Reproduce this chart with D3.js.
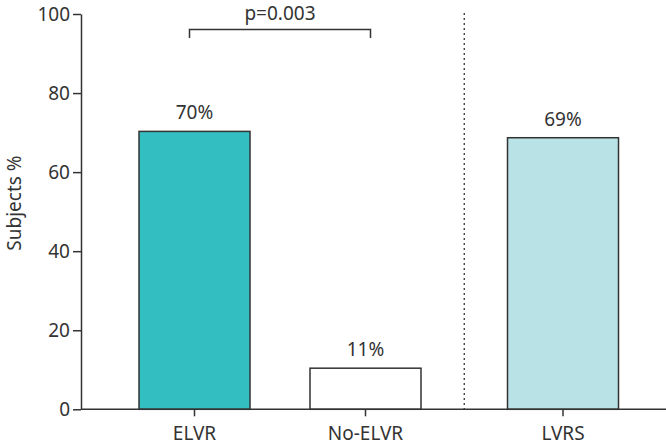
<!DOCTYPE html>
<html>
<head>
<meta charset="utf-8">
<script src="https://cdn.jsdelivr.net/npm/d3@7"></script>
<style>
  html, body { margin: 0; padding: 0; background: #fff; }
  svg { display: block; font-family: "Noto Sans", "Open Sans", sans-serif; }
</style>
</head>
<body>
<div id="chart"></div>
<script>
// ---- data ----
const categories = ["ELVR", "No-ELVR", "LVRS"];
const values = [70.3, 10.4, 68.7];
const valueLabels = ["70%", "11%", "69%"];
const barColors = ["#33bec1", "#ffffff", "#b9e2e6"];
const yTicks = [0, 20, 40, 60, 80, 100];
const yLabel = "Subjects %";
const pText = "p=0.003";

// ---- layout ----
const W = 666, H = 447;
const axisX = 81, y0 = 409.3, yTop = 14;
const barW = 111;
const ink = "#333333";
const fs = 19;

const svg = d3.select("#chart").append("svg").attr("width", W).attr("height", H);

const y = d3.scaleLinear().domain([0, 100]).range([y0, yTop]);
// slot positions: the third group sits after a separator gap
const slotOf = i => i + (i >= 2 ? 0.155 : 0);
const xs = d3.scaleLinear().domain([0, 1]).range([194.5, 365.5]);
const cx = i => xs(slotOf(i));

// y axis
const yAxis = d3.axisLeft(y).tickValues(yTicks).tickSize(8).tickPadding(3).tickSizeOuter(0);
const gy = svg.append("g").attr("transform", `translate(${axisX},0)`).call(yAxis);
gy.select(".domain").attr("stroke", ink).attr("stroke-width", 1.5);
gy.selectAll(".tick line").attr("stroke", ink).attr("stroke-width", 1.5);
gy.selectAll(".tick text").attr("fill", ink).attr("font-size", fs).attr("font-family", "Noto Sans");

// bars
svg.append("g").selectAll("rect").data(values).join("rect")
  .attr("x", (d, i) => cx(i) - barW / 2)
  .attr("y", d => y(d))
  .attr("width", barW)
  .attr("height", d => y(0) - y(d))
  .attr("fill", (d, i) => barColors[i])
  .attr("stroke", ink).attr("stroke-width", 1.5);

// value labels
svg.append("g").selectAll("text").data(values).join("text")
  .attr("x", (d, i) => cx(i))
  .attr("y", d => y(d) - 12)
  .attr("text-anchor", "middle")
  .attr("font-size", fs).attr("fill", ink)
  .text((d, i) => valueLabels[i]);

// separator dotted line
const sepX = (cx(1) + cx(2)) / 2;
svg.append("line")
  .attr("x1", sepX).attr("x2", sepX)
  .attr("y1", y(100) - 1).attr("y2", y0)
  .attr("stroke", ink).attr("stroke-width", 1.3)
  .attr("stroke-dasharray", "2,3");

// x axis
const xAxisLine = d3.scaleLinear().domain([0, 1]).range([axisX, W]);
svg.append("line")
  .attr("x1", xAxisLine(0)).attr("x2", xAxisLine(1))
  .attr("y1", y0).attr("y2", y0)
  .attr("stroke", ink).attr("stroke-width", 1.5);
const gx = svg.append("g");
categories.forEach((c, i) => {
  gx.append("line").attr("x1", cx(i)).attr("x2", cx(i))
    .attr("y1", y0).attr("y2", y0 + 7)
    .attr("stroke", ink).attr("stroke-width", 1.5);
  gx.append("text").attr("x", cx(i)).attr("y", 440)
    .attr("text-anchor", "middle").attr("font-size", fs).attr("fill", ink)
    .text(c);
});

// significance bracket
const bx1 = cx(0) - 5, bx2 = cx(1) + 5, by = 29.5;
svg.append("path")
  .attr("d", `M${bx1},${by + 8.5}V${by}H${bx2}V${by + 8.5}`)
  .attr("fill", "none").attr("stroke", ink).attr("stroke-width", 1.5);
svg.append("text").attr("x", (bx1 + bx2) / 2).attr("y", 20)
  .attr("text-anchor", "middle").attr("font-size", fs).attr("fill", ink)
  .text(pText);

// y label
svg.append("text")
  .attr("transform", `translate(21,203) rotate(-90)`)
  .attr("text-anchor", "middle").attr("font-size", fs).attr("fill", ink)
  .text(yLabel);
</script>
</body>
</html>
